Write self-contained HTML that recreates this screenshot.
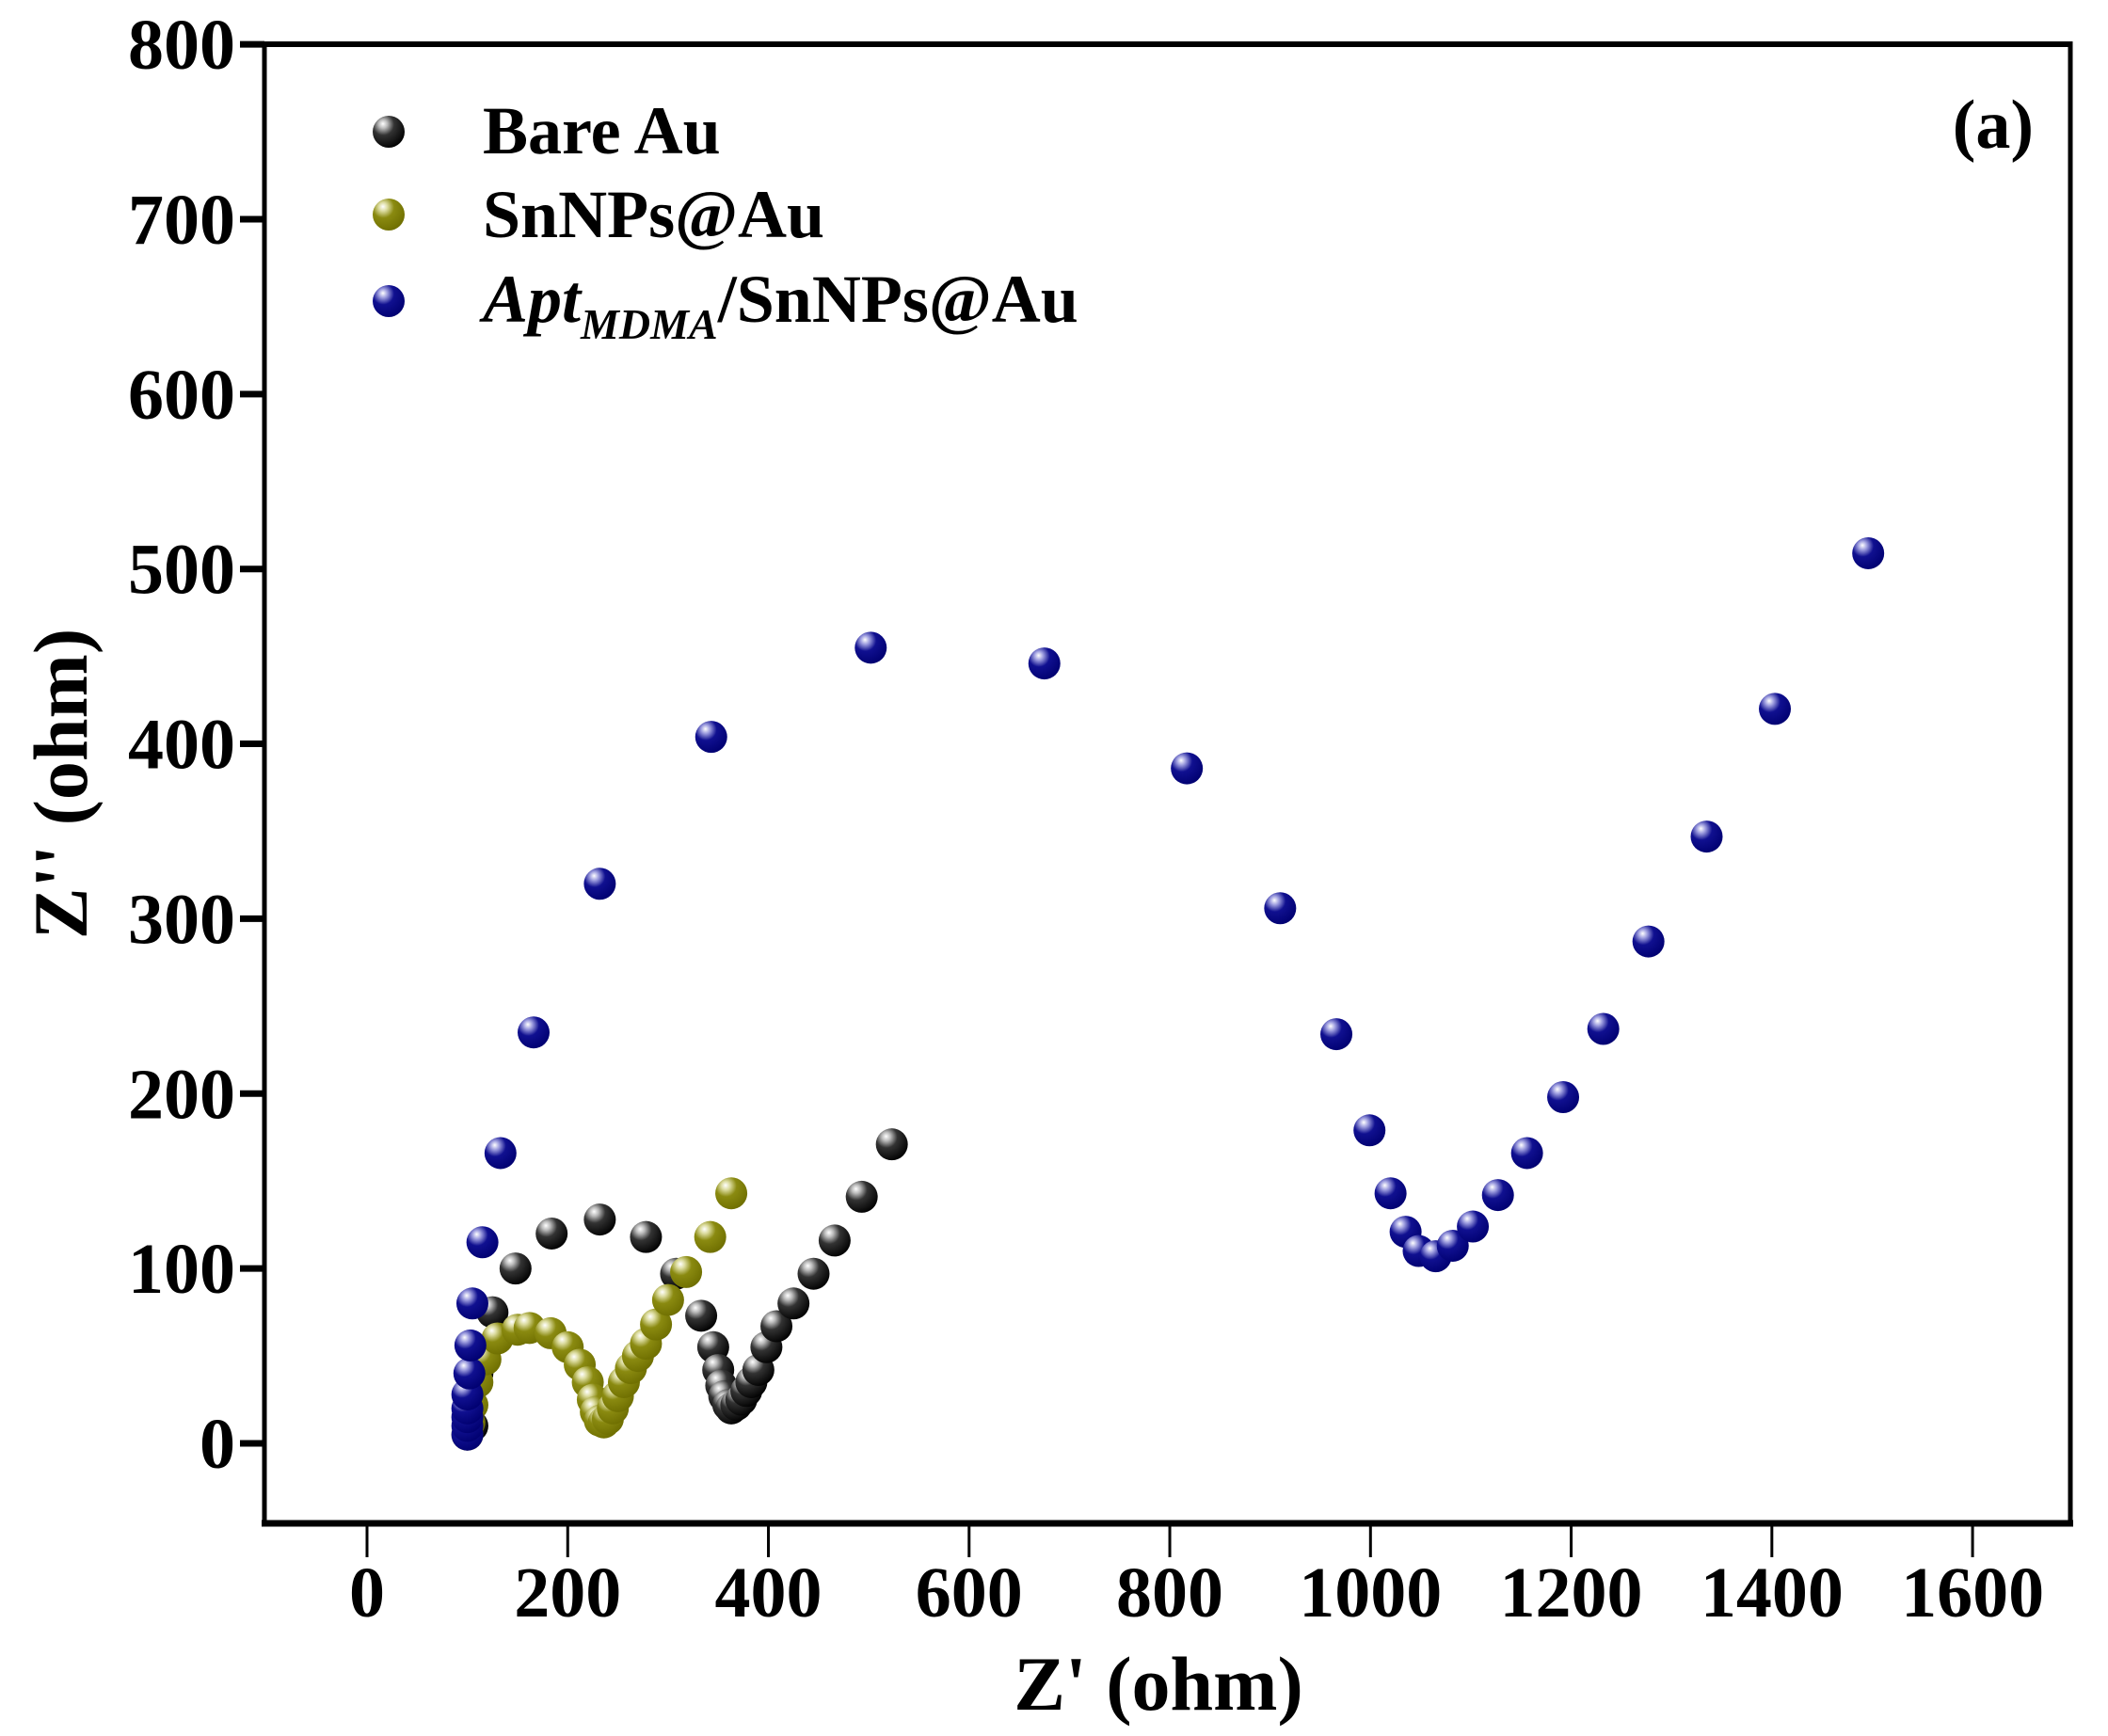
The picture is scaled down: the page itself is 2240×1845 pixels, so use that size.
<!DOCTYPE html>
<html><head><meta charset="utf-8"><style>
html,body{margin:0;padding:0;background:#fff}
svg{display:block}
text{font-family:"Liberation Serif",serif;font-weight:bold;fill:#000}
</style></head><body>
<svg width="2240" height="1845" viewBox="0 0 2240 1845" xmlns="http://www.w3.org/2000/svg">
<defs>
<radialGradient id="gk" cx="0.35" cy="0.3" r="0.75" fx="0.32" fy="0.25">
<stop offset="0" stop-color="#fff"/><stop offset="0.18" stop-color="#bbb"/><stop offset="0.45" stop-color="#333"/><stop offset="1" stop-color="#000"/></radialGradient>
<radialGradient id="go" cx="0.35" cy="0.3" r="0.75" fx="0.32" fy="0.25">
<stop offset="0" stop-color="#fff"/><stop offset="0.18" stop-color="#dcdca0"/><stop offset="0.45" stop-color="#8a8a10"/><stop offset="1" stop-color="#6e6e00"/></radialGradient>
<radialGradient id="gb" cx="0.35" cy="0.3" r="0.75" fx="0.32" fy="0.25">
<stop offset="0" stop-color="#fff"/><stop offset="0.18" stop-color="#a0a0e0"/><stop offset="0.45" stop-color="#101090"/><stop offset="1" stop-color="#000070"/></radialGradient>
</defs>
<g stroke="#000" fill="none">
<line x1="281" y1="47" x2="2202" y2="47" stroke-width="6"/>
<line x1="281" y1="44" x2="281" y2="1622" stroke-width="5"/>
<line x1="2200" y1="44" x2="2200" y2="1622" stroke-width="5"/>
<line x1="278" y1="1619" x2="2203" y2="1619" stroke-width="7"/>
</g>
<g id="yt" stroke="#000" stroke-width="7"></g>
<g id="xt" stroke="#000" stroke-width="3"></g>
<g id="yl" font-size="76" text-anchor="end"></g>
<g id="xl" font-size="76" text-anchor="middle"></g>
<text x="1231" y="1817" font-size="82" text-anchor="middle">Z' (ohm)</text>
<text transform="translate(92,833) rotate(-90)" font-size="82" text-anchor="middle">Z'' (ohm)</text>
<text x="2161" y="157" font-size="74" text-anchor="end">(a)</text>
<circle cx="413" cy="140" r="17" fill="url(#gk)"/>
<circle cx="413" cy="228" r="17" fill="url(#go)"/>
<circle cx="413" cy="320" r="17" fill="url(#gb)"/>
<text x="513" y="163" font-size="72">Bare Au</text>
<text x="513" y="252" font-size="72">SnNPs@Au</text>
<text x="513" y="342" font-size="72"><tspan font-style="italic">Apt</tspan><tspan font-style="italic" font-size="46" dy="18">MDMA</tspan><tspan dy="-18">/SnNPs@Au</tspan></text>
<g id="pts"></g>
</svg>
<script>
var NS="http://www.w3.org/2000/svg";
function X(o){return 390+o*1.0663}function Y(v){return 1534-v*1.8586}
function el(p,t,a,txt){var e=document.createElementNS(NS,t);for(var k in a)e.setAttribute(k,a[k]);if(txt!==undefined)e.textContent=txt;document.getElementById(p).appendChild(e);}
for(var v=0;v<=800;v+=100){el('yt','line',{x1:255,y1:Y(v),x2:281,y2:Y(v)});el('yl','text',{x:250,y:Y(v)+26},String(v));}
for(var o=0;o<=1600;o+=200){el('xt','line',{x1:X(o),y1:1619,x2:X(o),y2:1655});el('xl','text',{x:X(o),y:1718},String(o));}
var K=[[105,10],[110,40],[125,75],[148,100],[184,120],[232,128],[278,118],[308,97],[333,73],[345,55],[350,42],[353,33],[356,27],[360,22],[363,20],[368,22],[373,25],[378,30],[383,35],[390,42],[398,55],[408,67],[425,80],[445,97],[466,116],[493,141],[523,171]];
var O=[[100,5],[102,12],[105,22],[110,35],[118,48],[130,60],[150,65],[162,66],[183,63],[200,55],[212,45],[220,35],[225,25],[228,18],[232,13],[236,12],[240,14],[245,20],[250,27],[256,35],[263,43],[270,50],[278,57],[288,68],[300,82],[318,98],[342,118],[363,143]];
var B=[[100,5],[100,10],[100,15],[100,20],[100,28],[102,40],[103,56],[105,80],[115,115],[133,166],[166,235],[232,320],[343,404],[502,455],[675,446],[817,386],[910,306],[966,234],[999,179],[1020,143],[1035,121],[1048,110],[1065,107],[1082,113],[1102,124],[1127,142],[1156,166],[1192,198],[1232,237],[1277,287],[1335,347],[1403,420],[1496,509]];
[[K,'gk'],[O,'go'],[B,'gb']].forEach(function(s){s[0].forEach(function(p){el('pts','circle',{cx:X(p[0]),cy:Y(p[1]),r:17,fill:'url(#'+s[1]+')'});});});
</script>
</body></html>
